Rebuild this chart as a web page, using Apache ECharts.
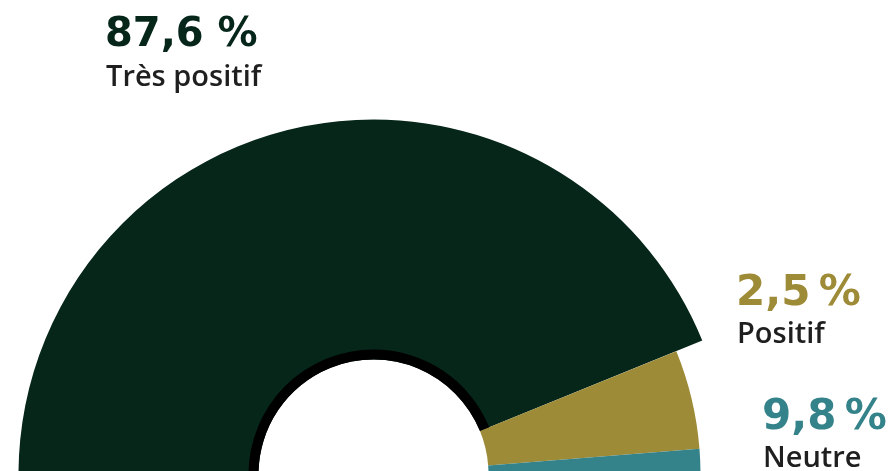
<!DOCTYPE html>
<html><head><meta charset="utf-8">
<script src="https://cdn.jsdelivr.net/npm/echarts@6/dist/echarts.min.js"></script>
<style>html,body{margin:0;padding:0;background:#fff}#c{width:892px;height:471px}</style>
</head><body><div id="c"></div>
<script>
// Slices, clockwise from the left end of the half ring
const sliceNames = ['Très positif', 'Neutre', 'Positif'];
const sliceValues = [87.6, 9.8, 2.5];
const sliceColors = ['#052619', '#9e8b37', '#35838a'];

// Labels as printed on the chart
const labelNames = ['Très positif', 'Positif', 'Neutre'];
const labelValues = [87.6, 2.5, 9.8];
const labelColors = ['#052619', '#9e8b37', '#35838a'];

const CENTER = [373.5, 474.5];
const T = 'rgba(0,0,0,0)';

function pieSeries(radius, colorFn) {
  return {
    type: 'pie', radius: radius, center: CENTER,
    startAngle: 180, endAngle: 360, clockwise: true,
    silent: true, animation: false,
    label: { show: false }, labelLine: { show: false },
    emphasis: { disabled: true },
    itemStyle: { borderWidth: 0 },
    data: sliceNames.map((n, i) => ({ name: n, value: sliceValues[i], itemStyle: { color: colorFn(i) } }))
  };
}

function fmt(v, sep) { return String(v).replace('.', ',') + sep + '%'; }

const labelPos = [
  { x: 105, yv: 36, yl: 78, vs: 40, sep: ' ' },
  { x: 736, yv: 294, yl: 335, vs: 42, sep: '\u202F' },
  { x: 762, yv: 418, yl: 459, vs: 42, sep: '\u202F' }
];

const graphics = [];
labelNames.forEach((n, i) => {
  const p = labelPos[i];
  graphics.push({ type: 'text', x: p.x, y: p.yv, silent: true, style: {
    text: fmt(labelValues[i], p.sep), fill: labelColors[i],
    fontFamily: 'DejaVu Sans', fontWeight: 'bold', fontSize: p.vs,
    textAlign: 'left', textVerticalAlign: 'middle' } });
  graphics.push({ type: 'text', x: p.x + 1, y: p.yl, silent: true, style: {
    text: n, fill: '#1f1f1f',
    fontFamily: 'Open Sans', fontWeight: 600, fontSize: 29,
    textAlign: 'left', textVerticalAlign: 'middle' } });
});

const chart = echarts.init(document.getElementById('c'), null, { renderer: 'canvas' });
chart.setOption({
  animation: false,
  series: [
    pieSeries([115, 355], i => i === 0 ? sliceColors[0] : T),
    pieSeries([115, 327], i => i === 0 ? T : sliceColors[i]),
    pieSeries([115, 125], i => i === 0 ? '#000000' : T)
  ],
  graphic: graphics
});
</script>
</body></html>
